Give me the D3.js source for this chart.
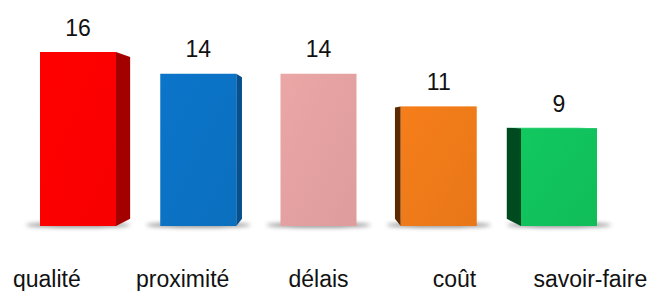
<!DOCTYPE html>
<html><head><meta charset="utf-8">
<script src="https://cdn.jsdelivr.net/npm/d3@7"></script>
<style>body{margin:0;background:#fff}svg{display:block}</style>
</head><body>
<svg id="c" width="651" height="291"></svg>
<script>
const categories = ["qualité","proximité","délais","coût","savoir-faire"];
const values = [16,14,14,11,9];
const frontColors = ["#ff0000","#0b72c4","#e4a1a1","#ef7a19","#11c25c"];
const sideColors = ["#a30000","#07508f","#c98a8a","#5c2a00","#004a20"];

const svg = d3.select("#c");
const x = d3.scaleBand().domain(categories).range([18,619]).paddingInner(0.368).paddingOuter(0.183);
const y = d3.scaleLinear().domain([0,16]).range([226,52]);
const vp = [318,124], k = 0.07;
const back = (px,py) => [px+(vp[0]-px)*k, py+(vp[1]-py)*k];

const defs = svg.append("defs");
defs.append("filter").attr("id","blur").attr("x","-50%").attr("y","-200%").attr("width","200%").attr("height","500%")
  .append("feGaussianBlur").attr("stdDeviation","2.2");
frontColors.forEach((c,i)=>{
  const g = defs.append("linearGradient").attr("id","g"+i).attr("x1","0").attr("y1","0").attr("x2","1").attr("y2","1");
  g.append("stop").attr("offset","0").attr("stop-color",d3.color(c).brighter(0.08));
  g.append("stop").attr("offset","1").attr("stop-color",d3.color(c).darker(0.08));
});

const data = categories.map((c,i)=>({c,v:values[i],i}));
const bars = svg.append("g").selectAll("g").data(data).join("g");

// shadows
bars.append("ellipse")
  .attr("cx",d=>x(d.c)+x.bandwidth()/2)
  .attr("cy",y(0)-1)
  .attr("rx",x.bandwidth()/2+14)
  .attr("ry",2.6)
  .attr("fill","#6e6e6e").attr("opacity",0.8)
  .attr("filter","url(#blur)");

// sides + fronts
bars.each(function(d){
  const g = d3.select(this);
  const x0 = x(d.c), x1 = x0+x.bandwidth(), yt = y(d.v), yb = y(0);
  const cx = (x0+x1)/2;
  let pts = null;
  if (cx < vp[0]-1) {
    pts = [[x1,yt], back(x1,yt), back(x1,yb), [x1,yb]];
  } else if (cx > vp[0]+1) {
    pts = [[x0,yt], back(x0,yt), back(x0,yb), [x0,yb]];
  }
  if (pts) g.append("polygon").attr("points",pts.map(p=>p.join(",")).join(" ")).attr("fill",sideColors[d.i]);
  if (yt > vp[1]) {
    const tp = [[x0,yt],[x1,yt],back(x1,yt),back(x0,yt)];
    g.append("polygon").attr("points",tp.map(p=>p.join(",")).join(" ")).attr("fill",d3.color(frontColors[d.i]).brighter(0.3));
  }
  g.append("rect").attr("x",x0).attr("y",yt).attr("width",x.bandwidth()).attr("height",yb-yt)
    .attr("fill","url(#g"+d.i+")");
});

// value labels
svg.append("g").selectAll("text").data(data).join("text")
  .attr("x",d=>x(d.c)+x.bandwidth()/2)
  .attr("y",d=>y(d.v)-16.5)
  .attr("text-anchor","middle")
  .attr("font-family","'Liberation Sans', Arial, sans-serif")
  .attr("font-size",23).attr("fill","#111")
  .text(d=>d.v);

// category labels (spread outward like the perspective axis)
svg.append("g").selectAll("text").data(data).join("text")
  .attr("x",d=>vp[0]+(x(d.c)+x.bandwidth()/2-vp[0])*1.13)
  .attr("y",286.5)
  .attr("text-anchor","middle")
  .attr("font-family","'Liberation Sans', Arial, sans-serif")
  .attr("font-size",23).attr("fill","#111")
  .text(d=>d.c);
</script>
</body></html>
